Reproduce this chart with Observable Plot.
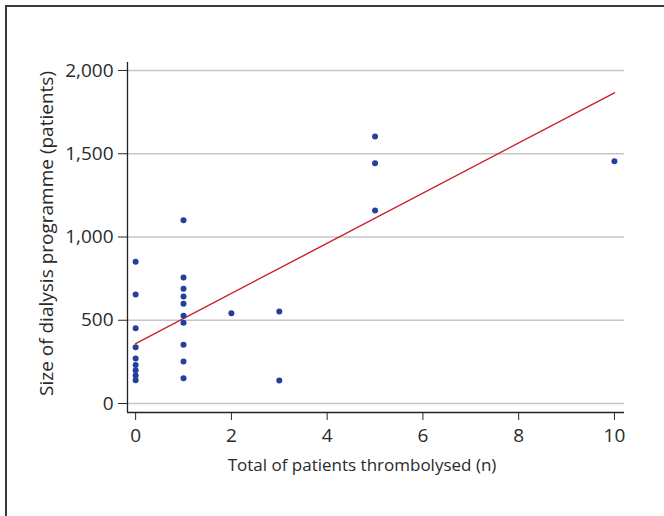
<!DOCTYPE html>
<html><head><meta charset="utf-8">
<script src="https://cdn.jsdelivr.net/npm/d3@7"></script>
<script src="https://cdn.jsdelivr.net/npm/@observablehq/plot@0.6"></script>
<style>
html,body{margin:0;padding:0;background:#fff;overflow:hidden;}
#wrap{position:relative;width:664px;height:516px;}
#frame{position:absolute;left:5px;top:5px;width:700px;height:600px;border:2px solid #3a3a3a;box-sizing:border-box;}
#chart{position:absolute;left:0;top:0;}
</style></head><body>
<div id="wrap"><div id="frame"></div><div id="chart"></div></div>
<script>
// Data
const thrombolysed = [0,0,0,0,0,0,0,0,0, 1,1,1,1,1,1,1,1,1,1, 2, 3,3, 5,5,5, 10];
const programmeSize = [851,655,452,338,270,232,200,168,140, 1101,757,689,643,599,527,485,353,252,152, 542, 553,138, 1604,1443,1159, 1455];
const fitX = [0, 10];
const fitY = [360, 1866];
const xTicks = [0, 2, 4, 6, 8, 10];
const yTicks = [0, 500, 1000, 1500, 2000];
const xDomain = [-0.17, 10.21];
const yDomain = [-54, 2048];
const xLabel = "Total of patients thrombolysed (n)";
const yLabel = "Size of dialysis programme (patients)";

const points = thrombolysed.map((x, i) => ({x, y: programmeSize[i]}));
const fit = fitX.map((x, i) => ({x, y: fitY[i]}));
const fmt = d3.format(",d");

const chart = Plot.plot({
  width: 664, height: 516,
  marginLeft: 127, marginRight: 40, marginTop: 62, marginBottom: 104,
  style: {fontFamily: "'Open Sans', sans-serif", fontSize: "19px", color: "#2a2a2a", background: "transparent"},
  x: {domain: xDomain, ticks: xTicks, tickSize: 8, tickPadding: 8, label: null},
  y: {domain: yDomain, ticks: yTicks, tickFormat: d => fmt(d), tickSize: 9, tickPadding: 5, label: null},
  marks: [
    Plot.ruleY(yTicks, {stroke: "#c4c4c4", strokeWidth: 1.5}),
    Plot.ruleX([xDomain[0]], {stroke: "#222", strokeWidth: 1.3}),
    Plot.ruleY([yDomain[0]], {stroke: "#222", strokeWidth: 1.3}),
    Plot.line(fit, {x: "x", y: "y", stroke: "#cc1f2c", strokeWidth: 1.4}),
    Plot.dot(points, {x: "x", y: "y", r: 3, fill: "#22409c", stroke: "none"}),
    Plot.text([yLabel], {frameAnchor: "left", text: d => d, rotate: -90, textAnchor: "middle", lineAnchor: "middle", dx: -81, dy: -4, fontSize: 19, fill: "#2a2a2a"}),
    Plot.text([xLabel], {frameAnchor: "bottom", text: d => d, textAnchor: "middle", lineAnchor: "middle", dx: -14, dy: 53, fontSize: 17, fill: "#2a2a2a"})
  ]
});
document.getElementById("chart").appendChild(chart);
</script>
</body></html>
